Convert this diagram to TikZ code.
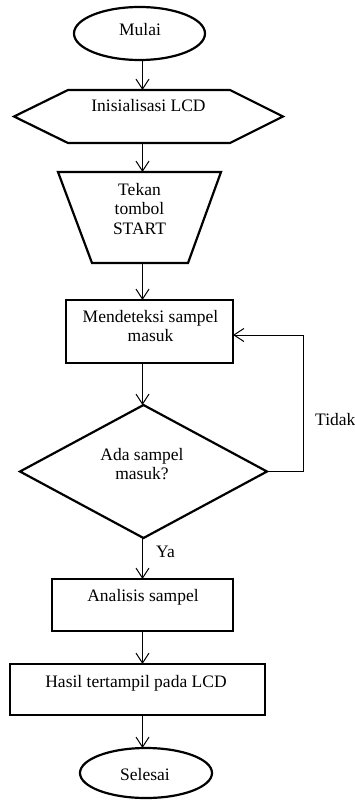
\documentclass[tikz,border=0pt]{standalone}
\usepackage{fontspec}
\setmainfont{Liberation Serif}
\usetikzlibrary{shapes.geometric,arrows.meta}
\begin{document}
\begin{tikzpicture}[x=1pt,y=-1pt,
  shapeb/.style={draw=black, line width=2.2pt, inner sep=0pt, outer sep=0pt},
  frame/.style={inner sep=0pt, outer sep=0pt},
  lbl/.style={font=\fontsize{17.5}{19.5}\selectfont, inner sep=0pt, align=center},
  arr/.style={draw=black, line width=1pt, -{Straight Barb[length=10pt,width=13pt]}}]
\fill[white] (0,0) rectangle (355,800);
\useasboundingbox (0,0) rectangle (355,800);
\coordinate (spine) at (142.5,0);
\coordinate (loop) at (303,400);
% shapes
\node[shapeb, ellipse, minimum width=131pt, minimum height=53pt] (mulai) at (139.5,33.5) {};
\node[frame, minimum width=269pt, minimum height=53pt] (hex) at (148.5,116.5) {};
\draw[shapeb] (hex.west) -- ([xshift=54pt]hex.north west) -- ([xshift=-53pt]hex.north east) -- (hex.east) -- ([xshift=-53pt]hex.south east) -- ([xshift=54pt]hex.south west) -- cycle;
\node[frame, minimum width=163pt, minimum height=91pt] (trap) at (139.5,217.5) {};
\draw[shapeb] (trap.north west) -- (trap.north east) -- ([xshift=-33pt]trap.south east) -- ([xshift=34pt]trap.south west) -- cycle;
\node[shapeb, rectangle, minimum width=167pt, minimum height=63pt] (mend) at (149.5,331.5) {};
\node[frame, minimum width=247pt, minimum height=133pt] (dia) at (143.5,471.5) {};
\draw[shapeb] (dia.north) -- (dia.east) -- (dia.south) -- (dia.west) -- cycle;
\node[shapeb, rectangle, minimum width=181pt, minimum height=52pt] (anal) at (142.5,605) {};
\node[shapeb, rectangle, minimum width=255pt, minimum height=51pt] (hasil) at (137.5,689.5) {};
\node[shapeb, ellipse, minimum width=132pt, minimum height=50pt] (selesai) at (146,773) {};
% texts
\node[lbl, anchor=base] (tMulai) at (140,36) {Mulai};
\node[lbl, anchor=base] (tInit) at (148.5,111) {Inisialisasi LCD};
\node[lbl, anchor=north] (tTekan) at (139.5,183) {Tekan\\tombol\\START};
\node[lbl, anchor=north] (tMend) at (150.5,310) {Mendeteksi sampel\\masuk};
\node[lbl, anchor=north] (tAda) at (142,448) {Ada sampel\\masuk?};
\node[lbl, anchor=base west] (tTidak) at (315,425) {Tidak};
\node[lbl, anchor=base west] (tYa) at (156,557) {Ya};
\node[lbl, anchor=base] (tAnal) at (143,601) {Analisis sampel};
\node[lbl, anchor=base] (tHasil) at (136,687) {Hasil tertampil pada LCD};
\node[lbl, anchor=base] (tSel) at (145,780) {Selesai};
% connectors
\draw[arr] (mulai.south -| spine) -- (hex.north -| spine);
\draw[arr] (hex.south -| spine) -- (trap.north -| spine);
\draw[arr] (trap.south -| spine) -- (mend.north -| spine);
\draw[arr] (mend.south -| spine) -- (dia.north -| spine);
\draw[arr] (dia.south -| spine) -- (anal.north -| spine);
\draw[arr] (anal.south -| spine) -- (hasil.north -| spine);
\draw[arr] (hasil.south -| spine) -- (selesai.north -| spine);
\draw[arr] (dia.east) -- (dia.east -| loop) -- ([yshift=-3.5pt]mend.east -| loop) -- ([yshift=-3.5pt]mend.east);
\end{tikzpicture}
\end{document}
